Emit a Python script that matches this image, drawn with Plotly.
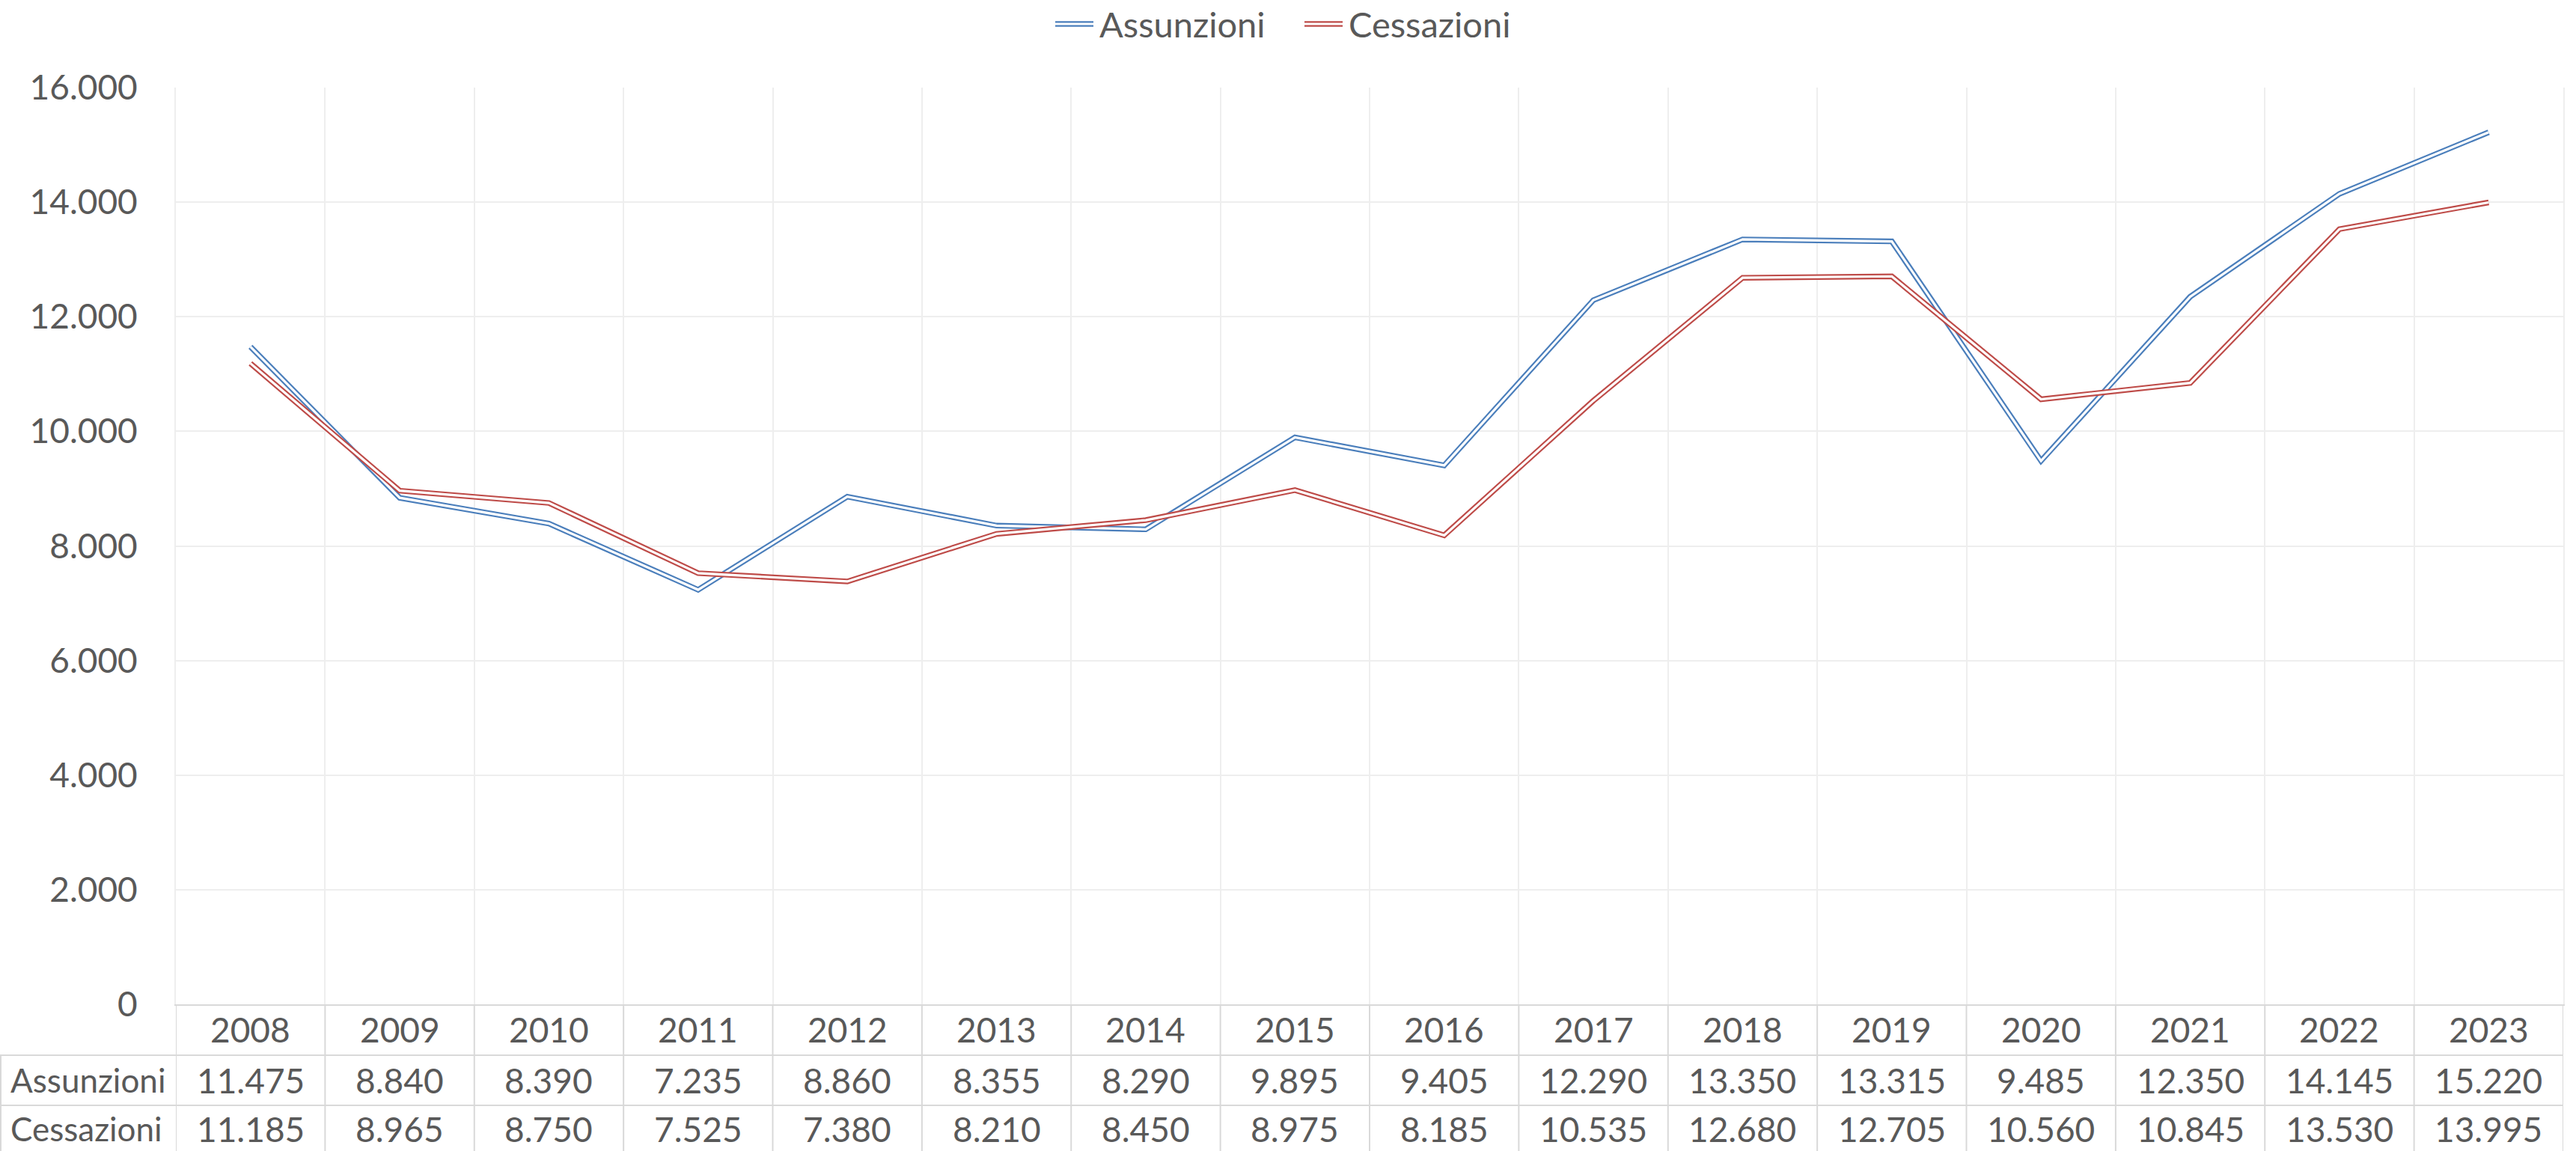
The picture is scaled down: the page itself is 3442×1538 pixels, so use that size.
import plotly.graph_objects as go

years = ["2008", "2009", "2010", "2011", "2012", "2013", "2014", "2015",
         "2016", "2017", "2018", "2019", "2020", "2021", "2022", "2023"]
assunzioni = [11475, 8840, 8390, 7235, 8860, 8355, 8290, 9895,
              9405, 12290, 13350, 13315, 9485, 12350, 14145, 15220]
cessazioni = [11185, 8965, 8750, 7525, 7380, 8210, 8450, 8975,
              8185, 10535, 12680, 12705, 10560, 10845, 13530, 13995]
series_names = ["Assunzioni", "Cessazioni"]
series_colors = ["#4A7EBB", "#BE4B48"]
y_ticks = [0, 2000, 4000, 6000, 8000, 10000, 12000, 14000, 16000]

W, H = 3442, 1538
# plot area in screen pixels
L, R, T, B = 235, 3425, 117, 1342
FONT = "Lato"
TXT = "#595959"
GRID = "#EEEEEE"
TAB = "#D9D9D9"
FS = 46
OUTER, INNER = 7.5, 3.2


def px(X):
    return (X - L) / (R - L)


def py(Y):
    return (B - Y) / (B - T)


def it(v):
    return f"{v:,}".replace(",", ".")


fig = go.Figure()
for name, vals, col in zip(series_names, [assunzioni, cessazioni], series_colors):
    fig.add_trace(go.Scatter(x=years, y=vals, mode="lines", name=name,
                             line=dict(color=col, width=OUTER), showlegend=False,
                             hoverinfo="skip"))
    fig.add_trace(go.Scatter(x=years, y=vals, mode="lines", name=name,
                             line=dict(color="white", width=INNER), showlegend=False,
                             hoverinfo="skip"))

shapes = []
annotations = []
n = len(years)

# table vertical lines (column boundaries)
for i in range(n + 1):
    shapes.append(dict(type="line", xref="x", yref="paper", x0=i - 0.5, x1=i - 0.5,
                       y0=py(1342), y1=py(1538), line=dict(color=TAB, width=2)))
# left border of label column
shapes.append(dict(type="line", xref="paper", yref="paper", x0=px(1), x1=px(1),
                   y0=py(1410), y1=py(1538), line=dict(color=TAB, width=2)))
# horizontal table lines
for Y in (1410, 1477):
    shapes.append(dict(type="line", xref="paper", yref="paper", x0=px(0), x1=1,
                       y0=py(Y), y1=py(Y), line=dict(color=TAB, width=2)))

row_y = [py(1376), py(1443), py(1508)]
for i, yr in enumerate(years):
    annotations.append(dict(x=i, xref="x", y=row_y[0], yref="paper", text=yr,
                            showarrow=False, xanchor="center", yanchor="middle",
                            font=dict(family=FONT, size=FS, color=TXT)))
for r, (name, vals) in enumerate(zip(series_names, [assunzioni, cessazioni])):
    annotations.append(dict(x=px(12), xref="paper", y=row_y[r + 1], yref="paper",
                            text=name, showarrow=False, xanchor="left",
                            yanchor="middle",
                            font=dict(family=FONT, size=FS - 2, color=TXT)))
    for i, v in enumerate(vals):
        annotations.append(dict(x=i, xref="x", y=row_y[r + 1], yref="paper",
                                text=it(v), showarrow=False, xanchor="center",
                                yanchor="middle",
                                font=dict(family=FONT, size=FS, color=TXT)))

# custom legend with double-line symbols
leg_y = py(32)
leg_items = [(1410, 1461, 1467), (1743, 1794, 1800)]
for (x0, x1, xt), name, col in zip(leg_items, series_names, series_colors):
    shapes.append(dict(type="line", xref="paper", yref="paper", x0=px(x0), x1=px(x1),
                       y0=leg_y, y1=leg_y, line=dict(color=col, width=OUTER)))
    shapes.append(dict(type="line", xref="paper", yref="paper", x0=px(x0), x1=px(x1),
                       y0=leg_y, y1=leg_y, line=dict(color="white", width=INNER)))
    annotations.append(dict(x=px(xt), xref="paper", y=leg_y, yref="paper", text=name,
                            showarrow=False, xanchor="left", yanchor="middle",
                            font=dict(family=FONT, size=47, color=TXT)))

fig.update_layout(
    width=W, height=H,
    margin=dict(l=L, r=W - R, t=T, b=H - B, pad=0),
    paper_bgcolor="white", plot_bgcolor="white",
    separators=",.",
    showlegend=False,
    hovermode=False,
    shapes=shapes, annotations=annotations,
    font=dict(family=FONT, color=TXT),
    xaxis=dict(type="category", range=[-0.5, n - 0.5], tickson="boundaries",
               showgrid=True, gridcolor=GRID, gridwidth=2, showticklabels=False,
               ticks="", showline=True, linecolor=TAB, linewidth=2, zeroline=False),
    yaxis=dict(range=[0, 16000], tickvals=y_ticks, tickformat=",d",
               showgrid=True, gridcolor=GRID, gridwidth=2, ticks="",
               showline=True, linecolor=GRID, linewidth=2, mirror=True,
               zeroline=False, ticklabelstandoff=40,
               tickfont=dict(family=FONT, size=FS, color=TXT)),
)

fig.write_html("out.html",
               config={"displayModeBar": False, "staticPlot": True},
               post_script="document.body.style.margin='0';"
                           "document.body.style.overflow='hidden';")
